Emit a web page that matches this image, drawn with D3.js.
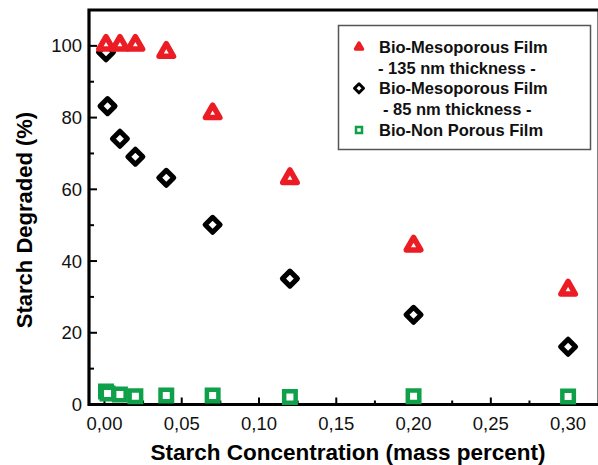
<!DOCTYPE html>
<html><head><meta charset="utf-8">
<script src="https://cdn.jsdelivr.net/npm/d3@7"></script>
<style>body{margin:0;background:#fff}svg{display:block}text{font-family:"Liberation Sans",Arial,sans-serif}</style>
</head><body><svg id="c" width="598" height="465"></svg>
<script>
const xValues = [0.001, 0.002, 0.01, 0.02, 0.04, 0.07, 0.12, 0.20, 0.30];
const meso135 = [100.5, 100.5, 100.5, 100.5, 98.5, 81.4, 63.3, 44.5, 32.2];
const meso85  = [98.2, 83.2, 74.1, 69.1, 63.2, 50.1, 35.1, 25.0, 16.1];
const nonPorous = [3.6, 3.1, 2.8, 2.3, 2.5, 2.5, 2.1, 2.3, 2.2];
const xTicks = [0, 0.05, 0.10, 0.15, 0.20, 0.25, 0.30];
const yTicks = [0, 20, 40, 60, 80, 100];
const legendLines = ["Bio-Mesoporous Film", "- 135 nm thickness -", "Bio-Mesoporous Film", "- 85 nm thickness -", "Bio-Non Porous Film"];

const svg = d3.select("#c");
const L = 89, R = 599, T = 10, B = 404.5;
const x = d3.scaleLinear().domain([-0.01, 0.32]).range([L, R]);
const y = d3.scaleLinear().domain([0, 110]).range([B, T]);
const red = "#ec1c24", green = "#0fa04a";

const g = svg.append("g");
const xMinor = d3.range(-0.0, 0.32, 0.025).filter(v => Math.abs(v / 0.05 - Math.round(v / 0.05)) > 0.01);
g.selectAll(".xmin").data(xMinor).join("line")
  .attr("x1", d => x(d)).attr("x2", d => x(d)).attr("y1", B + 1).attr("y2", B - 4)
  .attr("stroke", "#000").attr("stroke-width", 2);
g.selectAll(".xmaj").data(xTicks).join("line")
  .attr("x1", d => x(d)).attr("x2", d => x(d)).attr("y1", B).attr("y2", B - 7)
  .attr("stroke", "#000").attr("stroke-width", 2);
const yMinor = [10, 30, 50, 70, 90];
g.selectAll(".ymin").data(yMinor).join("line")
  .attr("x1", L).attr("x2", L + 5).attr("y1", d => y(d)).attr("y2", d => y(d))
  .attr("stroke", "#000").attr("stroke-width", 2);
g.selectAll(".ymaj").data(yTicks).join("line")
  .attr("x1", L).attr("x2", L + 8).attr("y1", d => y(d)).attr("y2", d => y(d))
  .attr("stroke", "#000").attr("stroke-width", 2);

svg.append("path").attr("d", `M${R},${T}H${L}V${B}H${R}`).attr("fill", "none")
  .attr("stroke", "#000").attr("stroke-width", 3.2);
svg.append("line").attr("x1", R).attr("x2", R).attr("y1", T).attr("y2", B).attr("stroke", "#000").attr("stroke-width", 3);

svg.selectAll(".xl").data(xTicks).join("text")
  .attr("x", d => x(d)).attr("y", 430).attr("text-anchor", "middle")
  .attr("font-size", 18.5).attr("fill", "#111")
  .text(d => d3.format(".2f")(d).replace(".", ","));
svg.selectAll(".yl").data(yTicks).join("text")
  .attr("x", 82).attr("y", d => y(d) + 6.5).attr("text-anchor", "end")
  .attr("font-size", 18.5).attr("fill", "#111").text(d => d);

svg.append("text").attr("x", 348).attr("y", 460).attr("text-anchor", "middle")
  .attr("font-size", 22.5).attr("font-weight", "bold").text("Starch Concentration (mass percent)");
svg.append("text").attr("transform", "translate(32,220) rotate(-90)").attr("text-anchor", "middle")
  .attr("font-size", 22).attr("font-weight", "bold").text("Starch Degraded (%)");

function tri(s) { const h = s * Math.sqrt(3) / 2; return `M0,${-h * 0.6}L${s / 2},${h * 0.4}L${-s / 2},${h * 0.4}Z`; }
function dia(r) { return `M0,${-r}L${r},0L0,${r}L${-r},0Z`; }
function sq(a) { return `M${-a / 2},${-a / 2}h${a}v${a}h${-a}Z`; }

const pts = (vals) => xValues.map((v, i) => [v, vals[i]]);

svg.append("g").selectAll("path").data(pts(nonPorous)).join("path")
  .attr("d", sq(11.5)).attr("transform", d => `translate(${x(d[0])},${y(d[1])})`)
  .attr("fill", "#fff").attr("stroke", green).attr("stroke-width", 4.5);
svg.append("g").selectAll("path").data(pts(meso85)).join("path")
  .attr("d", dia(7.5)).attr("transform", d => `translate(${x(d[0])},${y(d[1])})`)
  .attr("fill", "#fff").attr("stroke", "#000").attr("stroke-width", 5).attr("stroke-linejoin", "round");
svg.append("g").selectAll("path").data(pts(meso135).filter((d, i) => i !== 1)).join("path")
  .attr("d", tri(14.5)).attr("transform", d => `translate(${x(d[0])},${y(d[1])})`)
  .attr("fill", "#fff").attr("stroke", red).attr("stroke-width", 5.5).attr("stroke-linejoin", "round");

const lg = svg.append("g");
lg.append("rect").attr("x", 338.5).attr("y", 25.5).attr("width", 252).attr("height", 124)
  .attr("fill", "#fff").attr("stroke", "#555").attr("stroke-width", 1.5);
const lx = [379, 378, 379, 383, 379];
const ly = [46.7, 67.7, 88.3, 109.3, 130];
lg.selectAll("text").data(legendLines).join("text")
  .attr("x", (d, i) => lx[i]).attr("y", (d, i) => ly[i] + 6)
  .attr("font-size", 16.5).attr("font-weight", "bold").attr("fill", "#111").text(d => d);
lg.append("path").attr("d", tri(7)).attr("transform", `translate(359,${ly[0]})`)
  .attr("fill", "#fff").attr("stroke", red).attr("stroke-width", 3.5).attr("stroke-linejoin", "round");
lg.append("path").attr("d", dia(4.5)).attr("transform", `translate(359,${ly[2]})`)
  .attr("fill", "#fff").attr("stroke", "#000").attr("stroke-width", 3).attr("stroke-linejoin", "round");
lg.append("path").attr("d", sq(6)).attr("transform", `translate(359,${ly[4]})`)
  .attr("fill", "#fff").attr("stroke", green).attr("stroke-width", 2.5);
</script></body></html>
